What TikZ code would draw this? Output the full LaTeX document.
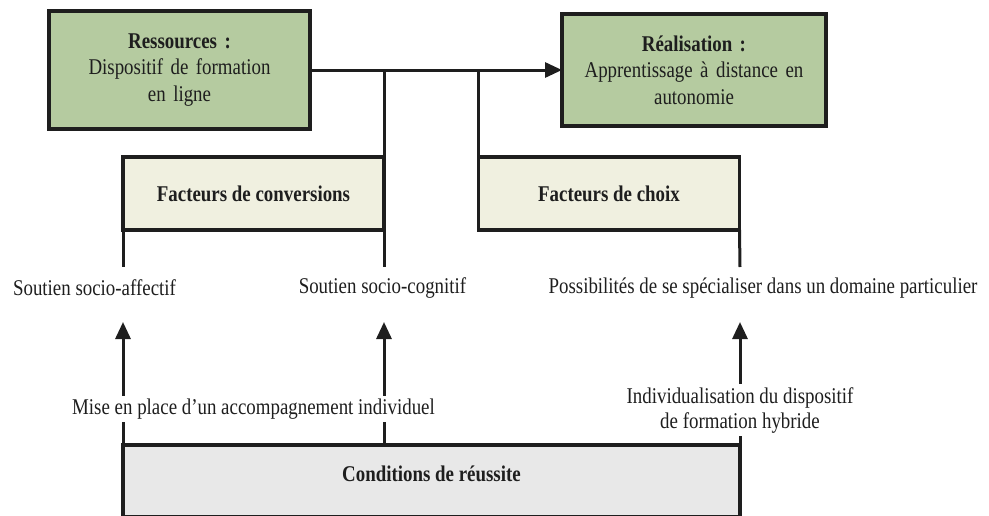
\documentclass[tikz,border=0pt]{standalone}
\usepackage{fontspec}
\setmainfont{Liberation Serif}[FakeStretch=0.84]
\usetikzlibrary{arrows.meta}
\definecolor{ink}{HTML}{1E1E1E}
\definecolor{resgreen}{HTML}{B5CBA0}
\definecolor{factcream}{HTML}{F0F0E0}
\definecolor{condgray}{HTML}{E8E8E8}
\tikzset{
  txt/.style={font=\fontsize{22.5}{26.5}\selectfont, text=ink, inner sep=2pt},
  boldtxt/.style={txt, font=\fontsize{22.5}{26.5}\selectfont\bfseries},
  mainbox/.style={txt, draw=ink, line width=3.4pt, outer sep=0pt, fill=resgreen,
    minimum width=261pt, minimum height=118pt, align=center, text width=245pt},
  factbox/.style={boldtxt, draw=ink, line width=3.4pt, outer sep=0pt, fill=factcream,
    minimum width=261pt, minimum height=73pt},
  condbox/.style={draw=ink, line width=3.4pt, outer sep=0pt, fill=condgray,
    minimum width=617pt, minimum height=72pt},
  wire/.style={draw=ink, line width=3pt},
  arrow/.style={wire, -{Triangle[length=17pt,width=15pt]}},
  caption/.style={txt, font=\fontsize{22.5}{25}\selectfont, fill=white, align=center, inner sep=3pt},
}
\begin{document}
\begin{tikzpicture}[x=1pt,y=-1pt]
\useasboundingbox (0,0) rectangle (989,515);

% top row: resources and outcome
\node[mainbox] (res) at (179.5,70) {\textbf{Ressources :}\\Dispositif de formation\\en ligne};
\node[mainbox, minimum width=264pt, minimum height=112pt] (real) at (694,70)
  {\textbf{Réalisation :}\\Apprentissage à distance en\\autonomie};

% factor boxes
\node[factbox] (conv) at (253.5,193.5) {Facteurs de conversions};
\node[factbox] (choix) at (609,193.5) {Facteurs de choix};

% conditions box (runs off the bottom edge)
\node[condbox] (cond) at (431.5,481) {};
\node[boldtxt] (condtxt) at (431.5,474) {Conditions de réussite};

% capability labels
\node[txt] (affectif) at (94.5,288) {Soutien socio-affectif};
\node[txt] (cognitif) at (382.5,288) {Soutien socio-cognitif};
\node[txt] (specialiser) at (763,288) {Possibilités de se spécialiser dans un domaine particulier};

% free ends of legs and arrow tips
\coordinate (convL) at (123,267);
\coordinate (convR) at (384,267);
\coordinate (choixR) at (740,267);
\coordinate (tipA) at (123,322);
\coordinate (tipB) at (384,322);
\coordinate (tipC) at (740,322);

% main flow
\draw[arrow] (res.east) -- (real.west);

% legs of the factor boxes
\draw[wire] (conv.north east |- res.east) -- (conv.south east) -- (convR);
\draw[wire] (conv.south west) -- (convL);
\draw[wire] (choix.north west |- res.east) -- (choix.north west);
\draw[wire] (choix.south east) -- (choixR);

% arrows rising from the conditions
\draw[arrow] (cond.north west) -- (tipA);
\draw[arrow] (cond.north -| conv.south east) -- (tipB);
\draw[arrow] (cond.north east) -- (tipC);

% captions sitting on the arrows
\node[caption] (accomp) at (253.5,409) {Mise en place d’un accompagnement individuel};
\node[caption] (indiv) at (740,410) {Individualisation du dispositif\\de formation hybride};
\end{tikzpicture}
\end{document}
